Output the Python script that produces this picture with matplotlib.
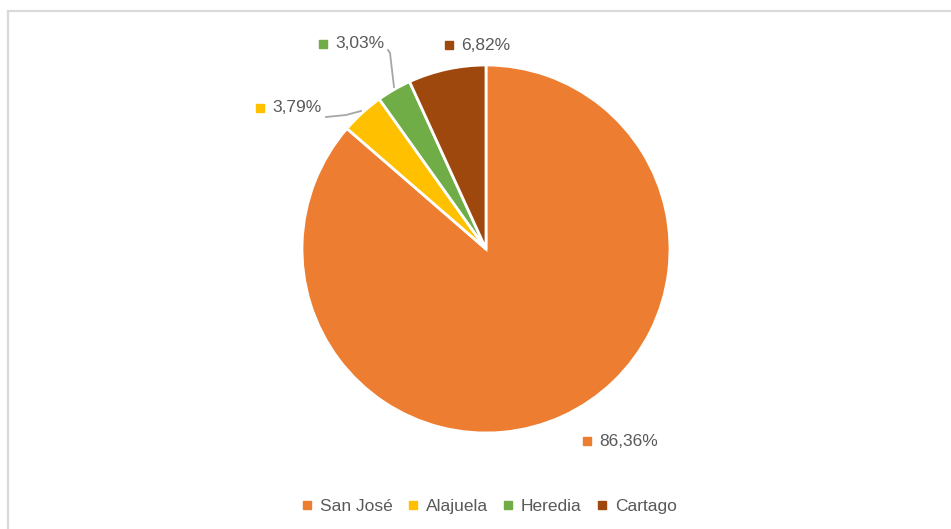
import matplotlib.pyplot as plt
from matplotlib.patches import Rectangle
from matplotlib.lines import Line2D

# datos por provincia (%)
provincias = ['San José', 'Alajuela', 'Heredia', 'Cartago']
porcentajes = [86.36, 3.79, 3.03, 6.82]
colores = ['#ED7D31', '#FFC000', '#70AD47', '#9E480E']

plt.rcParams['font.family'] = ['Liberation Sans', 'DejaVu Sans']
gris = '#595959'

W, H = 951, 529
fig = plt.figure(figsize=(W / 100, H / 100), dpi=100)
ax = fig.add_axes([0, 0, 1, 1])

# marco del gráfico
ax.add_patch(Rectangle((7.5, -20), W + 20, H - 10 + 20 - 0.5, fill=False,
                       edgecolor='#D9D9D9', linewidth=1.6))

ax.pie(porcentajes, colors=colores, startangle=90, counterclock=False,
       center=(486, H - 249), radius=184, frame=True,
       wedgeprops=dict(edgecolor='white', linewidth=2))
ax.set_xlim(0, W)
ax.set_ylim(0, H)
ax.set_aspect('equal')
ax.axis('off')

# etiquetas de datos: posición (x, y) del marcador en píxeles
pos_etiquetas = [(587, 441), (260, 108), (323, 44), (449, 45)]
for val, col, (px, py) in zip(porcentajes, colores, pos_etiquetas):
    txt = f'{val:.2f}'.replace('.', ',') + '%'
    ax.plot(px, H - py, marker='s', markersize=5.5, color=col, linestyle='none')
    ax.text(px + 12, H - py, txt, fontsize=12.5, color=gris, va='center', ha='left')

# líneas guía
ax.plot([326, 346, 361], [H - 117, H - 115, H - 111], color='#A6A6A6', lw=1.3)
ax.plot([388, 390, 394], [H - 50, H - 53, H - 87], color='#A6A6A6', lw=1.3)

handles = [Line2D([0], [0], marker='s', color='none', markerfacecolor=c,
                  markeredgecolor=c, markersize=6) for c in colores]
ax.legend(handles, provincias, loc='center', bbox_to_anchor=(488 / W, 1 - 506 / H),
          bbox_transform=fig.transFigure, ncol=4, frameon=False, fontsize=12.5,
          labelcolor=gris, handletextpad=0.3, columnspacing=0.7, handlelength=0.9)

fig.savefig('out.png', dpi=100)
